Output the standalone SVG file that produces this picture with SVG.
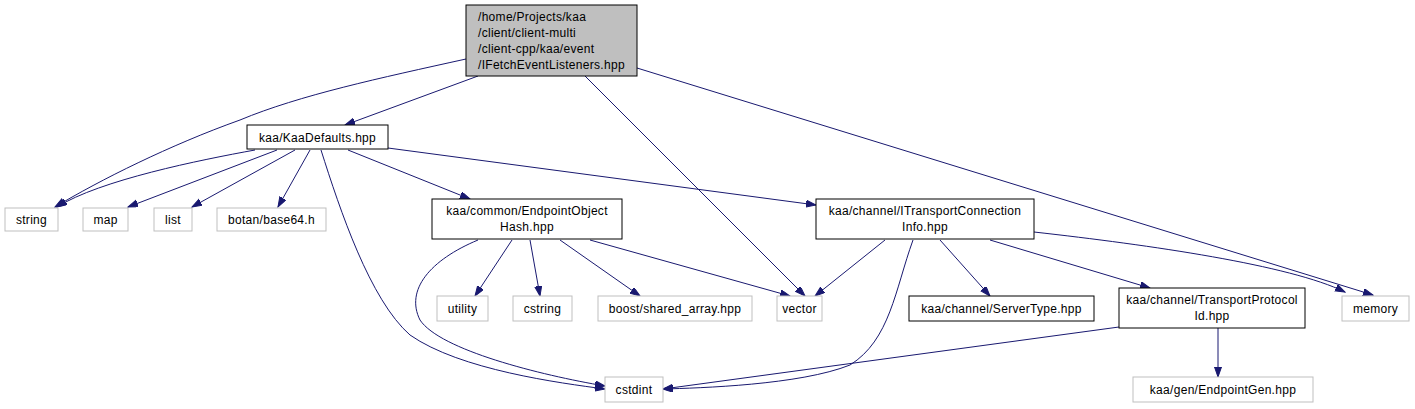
<svg xmlns="http://www.w3.org/2000/svg" width="1415" height="409" viewBox="0 0 1415 409">
<style>
text{font-family:"Liberation Sans",Arial,sans-serif;font-size:12px;letter-spacing:0.3px;fill:#000}
.c{text-anchor:middle}
.n{fill:#fff;stroke:#000;stroke-width:1}
.x{fill:#fff;stroke:#bfbfbf;stroke-width:1}
.e{fill:none;stroke:#191970;stroke-width:1;marker-end:url(#ah)}
</style>
<defs>
<marker id="ah" markerUnits="userSpaceOnUse" markerWidth="11" markerHeight="8" refX="10" refY="3.5" orient="auto">
<path d="M0,0 L10,3.5 L0,7 z" fill="#191970" stroke="#191970"/>
</marker>
</defs>
<rect width="1415" height="409" fill="#fff"/>
<g id="edges">
<path class="e" d="M478,76 L345,125"/>
<path class="e" d="M466,59 C380,78 300,95 240,120 C170,145 100,180 55,207"/>
<path class="e" d="M585,76 L805,296"/>
<path class="e" d="M637,68 L1373,295"/>
<path class="e" d="M255,150 C200,160 100,180 57,207"/>
<path class="e" d="M277,150 L128,207"/>
<path class="e" d="M295,150 L192,207"/>
<path class="e" d="M310,150 L278,207"/>
<path class="e" d="M321,150 C340,210 370,300 410,335 C460,370 560,383 605,389"/>
<path class="e" d="M348,150 L470,199"/>
<path class="e" d="M388,148 L816,205"/>
<path class="e" d="M478,240 C430,260 405,290 420,320 C440,350 540,375 605,386"/>
<path class="e" d="M512,240 L475,296"/>
<path class="e" d="M530,240 L540,296"/>
<path class="e" d="M560,240 L640,296"/>
<path class="e" d="M590,240 L790,296"/>
<path class="e" d="M885,240 L815,296"/>
<path class="e" d="M913,240 C895,290 890,340 850,365 C800,385 700,388 663,389"/>
<path class="e" d="M940,240 L990,296"/>
<path class="e" d="M990,240 L1150,288"/>
<path class="e" d="M1034,232 C1150,245 1290,265 1345,292"/>
<path class="e" d="M1119,327 L663,389"/>
<path class="e" d="M1218,328 L1218,377"/>
</g>
<g id="main"><rect x="466" y="5" width="171" height="71" fill="#bfbfbf" stroke="#000"/>
<text x="478" y="21">/home/Projects/kaa</text><text x="478" y="37">/client/client-multi</text><text x="478" y="53">/client-cpp/kaa/event</text><text x="478" y="69">/IFetchEventListeners.hpp</text></g>
<g id="kaadefaults"><rect class="n" x="247" y="125" width="141" height="24"/><text class="c" x="317.5" y="141.5">kaa/KaaDefaults.hpp</text></g>
<g id="string"><rect class="x" x="5" y="208" width="53" height="23"/><text class="c" x="31.5" y="223.5">string</text></g>
<g id="map"><rect class="x" x="83" y="208" width="45" height="23"/><text class="c" x="105.5" y="223.5">map</text></g>
<g id="list"><rect class="x" x="154" y="208" width="38" height="23"/><text class="c" x="173" y="223.5">list</text></g>
<g id="botan"><rect class="x" x="217" y="208" width="109" height="23"/><text class="c" x="271.5" y="223.5">botan/base64.h</text></g>
<g id="eoh"><rect class="n" x="432" y="199" width="190" height="40"/><text class="c" x="527" y="215">kaa/common/EndpointObject</text><text class="c" x="527" y="231">Hash.hpp</text></g>
<g id="itci"><rect class="n" x="816" y="199" width="218" height="40"/><text class="c" x="925" y="215">kaa/channel/ITransportConnection</text><text class="c" x="925" y="231">Info.hpp</text></g>
<g id="utility"><rect class="x" x="437" y="296" width="51" height="25"/><text class="c" x="462.5" y="312.5">utility</text></g>
<g id="cstring"><rect class="x" x="513" y="296" width="59" height="25"/><text class="c" x="542.5" y="312.5">cstring</text></g>
<g id="boost"><rect class="x" x="598" y="296" width="154" height="25"/><text class="c" x="675" y="312.5">boost/shared_array.hpp</text></g>
<g id="vector"><rect class="x" x="777" y="296" width="45" height="25"/><text class="c" x="799.5" y="312.5">vector</text></g>
<g id="servertype"><rect class="n" x="909" y="296" width="185" height="25"/><text class="c" x="1001.5" y="312.5">kaa/channel/ServerType.hpp</text></g>
<g id="tpi"><rect class="n" x="1119" y="288" width="186" height="40"/><text class="c" x="1212" y="304">kaa/channel/TransportProtocol</text><text class="c" x="1212" y="320">Id.hpp</text></g>
<g id="memory"><rect class="x" x="1342" y="296" width="67" height="25"/><text class="c" x="1375.5" y="312.5">memory</text></g>
<g id="cstdint"><rect class="x" x="605" y="377" width="58" height="25"/><text class="c" x="634" y="393.5">cstdint</text></g>
<g id="endpointgen"><rect class="x" x="1133" y="377" width="180" height="25"/><text class="c" x="1223" y="393.5">kaa/gen/EndpointGen.hpp</text></g>
</svg>
